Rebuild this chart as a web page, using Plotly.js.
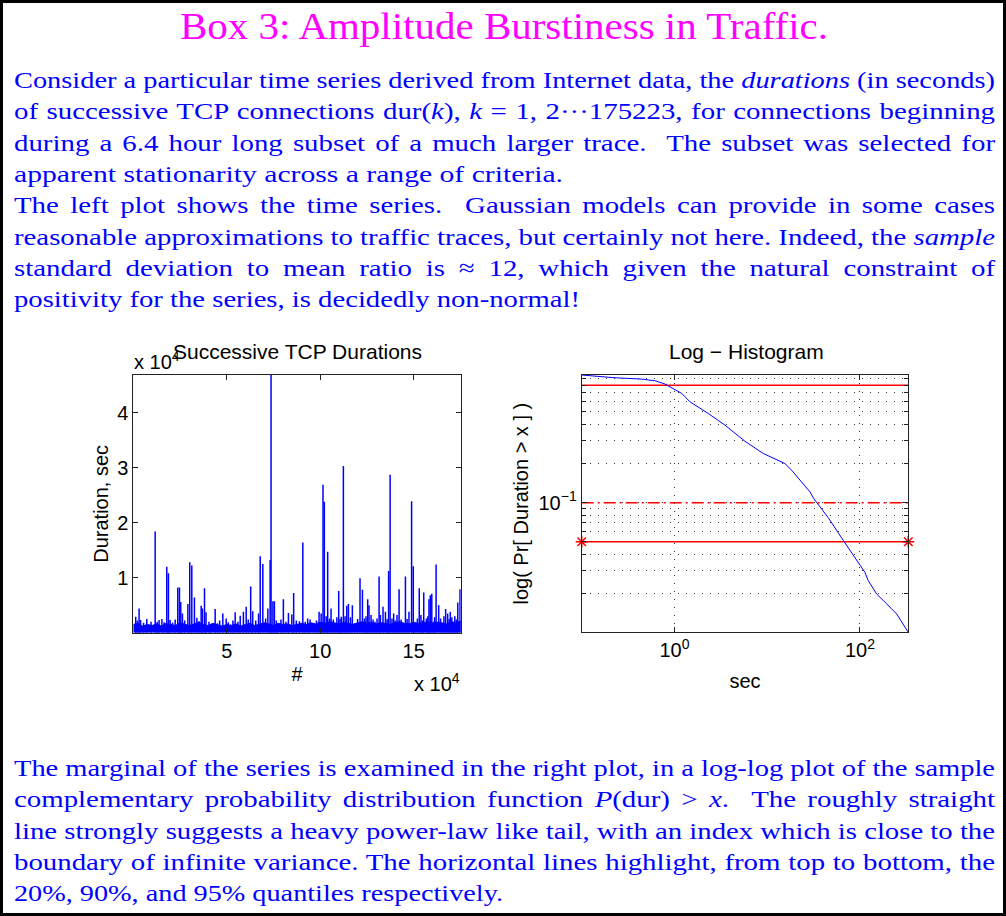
<!DOCTYPE html>
<html>
<head>
<meta charset="utf-8">
<script src="https://cdn.plot.ly/plotly-3.0.1.min.js"></script>
<style>
html,body{margin:0;padding:0;background:#fff;}
#page{position:relative;width:1006px;height:916px;overflow:hidden;background:#fff;}
#frame{position:absolute;left:0;top:0;width:1006px;height:916px;box-sizing:border-box;border:3px solid #000;pointer-events:none;z-index:3;}
#plot{position:absolute;left:0;top:0;width:1006px;height:916px;z-index:1;}
.ln{position:absolute;z-index:2;font-family:"Liberation Serif","Times New Roman",serif;color:#0000ff;font-size:24px;line-height:24px;white-space:nowrap;transform-origin:0 0;}
.ttl{color:#ff00ff;font-size:38px;line-height:38px;}
</style>
</head>
<body>
<div id="page">
  <div id="plot"></div>
  <div id="text"></div>
  <div id="frame"></div>
</div>
<script>
// ---------------- DATA ----------------
// Left plot: successive TCP durations (index in units of 10^4, duration in units of 10^4 s)
const seriesLength = 17.5223;
const spikeIndex = [0.13,0.22,0.31,0.39,0.55,0.72,0.95,1.17,1.28,1.38,1.53,1.65,1.79,1.88,1.97,2.10,2.24,2.38,2.47,2.54,2.63,2.75,2.92,3.02,3.13,3.27,3.40,3.52,3.63,3.70,3.81,3.89,4.05,4.17,4.38,4.50,4.62,4.79,4.97,5.08,5.21,5.33,5.45,5.60,5.72,5.89,6.04,6.15,6.28,6.39,6.55,6.70,6.79,6.93,7.08,7.20,7.32,7.37,7.47,7.55,7.65,7.73,7.90,8.03,8.17,8.30,8.48,8.58,8.72,8.89,9.07,9.20,9.33,9.46,9.64,9.80,9.94,10.05,10.15,10.22,10.32,10.40,10.50,10.58,10.70,10.80,10.89,10.99,11.06,11.13,11.24,11.33,11.42,11.51,11.62,11.72,11.86,12.00,12.13,12.26,12.37,12.45,12.54,12.61,12.72,12.83,12.93,13.04,13.15,13.22,13.36,13.49,13.58,13.66,13.74,13.84,13.93,14.02,14.11,14.22,14.33,14.43,14.56,14.65,14.75,14.89,14.98,15.09,15.20,15.30,15.39,15.47,15.54,15.68,15.76,15.82,15.89,15.97,16.04,16.12,16.20,16.34,16.44,16.52,16.62,16.71,16.82,16.90,16.96,17.04,17.11,17.20,17.28,17.36,17.48];
const spikeDuration = [0.29,0.22,0.44,0.23,0.18,0.25,0.20,1.84,0.20,0.23,0.25,0.19,1.20,1.08,0.23,0.18,0.24,0.82,0.82,0.56,0.35,0.22,0.52,1.28,1.22,0.64,0.27,0.21,0.49,0.44,0.81,0.37,0.20,0.15,0.43,0.17,0.22,0.35,0.26,0.19,0.15,0.22,0.37,0.20,0.31,0.38,0.47,0.24,0.84,0.39,0.22,0.35,1.39,1.25,0.26,0.44,1.32,4.685,0.57,0.57,0.22,0.15,0.24,0.61,0.20,0.36,0.33,0.72,0.22,0.21,1.64,0.20,0.26,0.24,0.17,0.22,0.38,0.35,2.69,2.38,0.30,1.47,0.26,0.44,0.24,0.17,0.28,0.76,0.25,0.29,3.03,0.30,0.49,0.52,0.28,0.50,0.17,0.25,0.99,0.78,0.26,0.30,0.61,0.50,0.32,0.24,0.20,0.26,1.02,0.32,0.47,0.38,0.25,1.12,2.87,0.26,0.35,0.22,0.32,0.79,0.24,0.17,1.02,0.25,0.38,2.39,1.21,0.17,0.26,0.81,0.32,0.22,0.73,0.26,0.30,0.61,0.68,0.71,0.20,0.28,1.24,0.50,0.26,0.17,0.30,0.43,0.35,0.25,0.38,0.28,0.20,0.30,0.24,0.55,0.79];
// dense low-level band of the series (estimated envelope)
const bandIndex = [0,0.25,0.5,0.75,1,1.25,1.5,1.75,2,2.25,2.5,2.75,3,3.25,3.5,3.75,4,4.25,4.5,4.75,5,5.25,5.5,5.75,6,6.25,6.5,6.75,7,7.25,7.5,7.75,8,8.25,8.5,8.75,9,9.25,9.5,9.75,10,10.25,10.5,10.75,11,11.25,11.5,11.75,12,12.25,12.5,12.75,13,13.25,13.5,13.75,14,14.25,14.5,14.75,15,15.25,15.5,15.75,16,16.25,16.5,16.75,17,17.25,17.52];
const bandDuration = [0.15,0.17,0.12,0.15,0.13,0.16,0.12,0.17,0.15,0.13,0.18,0.15,0.13,0.16,0.19,0.15,0.13,0.17,0.15,0.12,0.15,0.13,0.16,0.12,0.15,0.17,0.13,0.15,0.18,0.16,0.13,0.17,0.15,0.16,0.13,0.15,0.17,0.15,0.18,0.16,0.19,0.17,0.20,0.18,0.16,0.19,0.17,0.15,0.18,0.20,0.17,0.19,0.16,0.18,0.17,0.15,0.18,0.20,0.17,0.16,0.19,0.17,0.18,0.20,0.17,0.19,0.18,0.16,0.20,0.18,0.21];
const leftYTicks = [1,2,3,4];
const leftXTicks = [5,10,15];

// Right plot: empirical complementary distribution P[Duration > x]
const ccdfSec  = [0.1,0.228,0.443,0.616,0.790,0.933,1.01,1.196,1.47,2.31,3.50,5.75,9.06,15.5,18.4,28.9,31.9,37.0,45.5,66.1,84.7,113,123,151,194,249,332];
const ccdfProb = [0.96,0.914,0.893,0.867,0.818,0.766,0.735,0.693,0.597,0.486,0.395,0.297,0.239,0.200,0.177,0.121,0.107,0.0925,0.0766,0.0512,0.0392,0.0291,0.0251,0.01985,0.01663,0.0139,0.01005];
const quantileProb = [0.8, 0.1, 0.05];          // 20%, 90%, 95% quantiles
const quantileDash = ['solid', '12px,4px,2px,4px', 'solid'];
const quantileMarker = [false, false, true];
const rightXTicks = [1, 100];
const rightXTickText = ['10<sup>0</sup>', '10<sup>2</sup>'];
const rightYTicks = [0.1];
const rightYTickText = ['10<sup>\u22121</sup>'];
const rightYMinor = [0.02,0.03,0.04,0.05,0.06,0.07,0.08,0.09,0.2,0.3,0.4,0.5,0.6,0.7,0.8,0.9];

// ---------------- TEXT ----------------
const titleText = 'Box 3: Amplitude Burstiness in Traffic.';
const topLines = [
 ['Consider a particular time series derived from Internet data, the <i>durations</i> (in seconds)', 0],
 ['of successive TCP connections dur(<i>k</i>), <i>k</i> = 1, 2\u00B7\u00B7\u00B7175223, for connections beginning', 0],
 ['during a 6.4 hour long subset of a much larger trace.&nbsp; The subset was selected for', 0],
 ['apparent stationarity across a range of criteria.', 549],
 ['The left plot shows the time series.&nbsp; Gaussian models can provide in some cases', 0],
 ['reasonable approximations to traffic traces, but certainly not here. Indeed, the <i>sample</i>', 0],
 ['standard deviation to mean ratio is \u2248 12, which given the natural constraint of', 0],
 ['positivity for the series, is decidedly non-normal!', 566]
];
const bottomLines = [
 ['The marginal of the series is examined in the right plot, in a log-log plot of the sample', 0],
 ['complementary probability distribution function <i>P</i>(dur) &gt; <i>x</i>.&nbsp; The roughly straight', 0],
 ['line strongly suggests a heavy power-law like tail, with an index which is close to the', 0],
 ['boundary of infinite variance. The horizontal lines highlight, from top to bottom, the', 0],
 ['20%, 90%, and 95% quantiles respectively.', 489]
];

// ---------------- TEXT LAYOUT ----------------
(function(){
  const host = document.getElementById('text');
  const LEFT = 14, FULL = 981;
  const items = [];
  function addLine(html, baseline, target){
    const d = document.createElement('div');
    d.className = 'ln';
    d.innerHTML = html;
    d.style.left = LEFT + 'px';
    d.style.top = (baseline - 20) + 'px';
    host.appendChild(d);
    items.push({d, target});
  }
  topLines.forEach((l,i)=>addLine(l[0], 88 + i*31.3, l[1]));
  bottomLines.forEach((l,i)=>addLine(l[0], 776 + i*31.3, l[1]));
  let ratios = [];
  items.forEach(it=>{ it.w = it.d.getBoundingClientRect().width; if(it.target) ratios.push(it.target/it.w); });
  const g = ratios.reduce((a,b)=>a+b,0)/ratios.length;
  items.forEach(it=>{
    if(it.target){
      it.d.style.transform = 'scaleX(' + (it.target/it.w) + ')';
    } else {
      const avail = FULL / g;
      const spaces = (it.d.textContent.match(/[ \u00A0]/g) || []).length;
      if (it.w <= avail && spaces > 0){
        it.d.style.wordSpacing = ((avail - it.w) / spaces) + 'px';
        it.d.style.transform = 'scaleX(' + g + ')';
      } else {
        it.d.style.transform = 'scaleX(' + (FULL/it.w) + ')';
      }
    }
  });
  const t = document.createElement('div');
  t.className = 'ln ttl';
  t.textContent = titleText;
  host.appendChild(t);
  const tw = t.getBoundingClientRect().width;
  const tTarget = 648;
  t.style.left = (504 - tTarget/2) + 'px';
  t.style.top = (39 - 32) + 'px';
  t.style.transform = 'scaleX(' + (tTarget/tw) + ')';
})();

// ---------------- PLOT ----------------
const W = 1006, H = 916;
const px = x => x / W;
const py = y => 1 - y / H;

const sx = [], sy = [];
spikeIndex.forEach((x,i)=>{ sx.push(x, x, null); sy.push(0, spikeDuration[i], null); });

const blue = '#0000ff', red = '#ff0000';
const traces = [
  {type:'scatter', mode:'lines', x: bandIndex, y: bandDuration, fill:'tozeroy', fillcolor: blue,
   line:{color: blue, width:1}, xaxis:'x', yaxis:'y', hoverinfo:'skip'},
  {type:'scatter', mode:'lines', x: sx, y: sy, line:{color: blue, width:1.5}, connectgaps:false,
   xaxis:'x', yaxis:'y', hoverinfo:'skip'},
];
quantileProb.forEach((p,i)=>{
  traces.push({type:'scatter', mode: quantileMarker[i] ? 'lines+markers' : 'lines',
    x:[ccdfSec[0], ccdfSec[ccdfSec.length-1]], y:[p,p],
    line:{color: red, width:1.5, dash: quantileDash[i]},
    marker:{symbol:'asterisk-open', size:10, color: red, line:{color: red, width:1.5}},
    cliponaxis:false, xaxis:'x2', yaxis:'y2', hoverinfo:'skip'});
});
traces.push({type:'scatter', mode:'lines', x: ccdfSec, y: ccdfProb, line:{color: blue, width:1},
  xaxis:'x2', yaxis:'y2', hoverinfo:'skip'});

const axisFont = {family:'Liberation Sans, Arial, sans-serif', size:20, color:'#000'};
const titleFont = {family:'Liberation Sans, Arial, sans-serif', size:21, color:'#000'};
const common = {showline:true, linecolor:'#222', linewidth:1, mirror:'ticks', ticks:'inside', ticklen:5,
  tickcolor:'#222', zeroline:false, tickfont: {family: axisFont.family, size: 20, color: '#000'}, fixedrange:true};
const dotGrid = {gridcolor:'#333', gridwidth:1, griddash:'1px,7px'};

const layout = {
  width: W, height: H, margin:{l:0,r:0,t:0,b:0}, showlegend:false,
  paper_bgcolor:'rgba(0,0,0,0)', plot_bgcolor:'#fff',
  font: axisFont,
  xaxis: Object.assign({}, common, {domain:[px(133.3), px(460.8)], range:[0, seriesLength],
    tickvals: leftXTicks, showgrid:false, anchor:'y',
    title:{text:'#', font: axisFont, standoff: 6}}),
  yaxis: Object.assign({}, common, {domain:[py(632.7), py(375)], range:[0, Math.max(...spikeDuration)],
    tickvals: leftYTicks, showgrid:false, anchor:'x',
    title:{text:'Duration, sec', font: axisFont, standoff: 3}}),
  xaxis2: Object.assign({}, common, dotGrid, {domain:[px(581.7), px(908.3)], type:'log',
    range:[Math.log10(ccdfSec[0]), Math.log10(ccdfSec[ccdfSec.length-1])],
    tickvals: rightXTicks, ticktext: rightXTickText, showgrid:true, anchor:'y2',
    title:{text:'sec', font: axisFont, standoff: 13}}),
  yaxis2: Object.assign({}, common, dotGrid, {domain:[py(632.3), py(375)], type:'log',
    range:[Math.log10(ccdfProb[ccdfProb.length-1]), Math.log10(ccdfProb[0])],
    tickvals: rightYTicks, ticktext: rightYTickText, showgrid:true, anchor:'x2',
    minor: Object.assign({tickvals: rightYMinor, ticks:'inside', ticklen:4, tickcolor:'#222', showgrid:true}, dotGrid),
    title:{text:'log( Pr[ Duration > x ] )', font: axisFont, standoff: 4}}),
  annotations: [
    {xref:'paper', yref:'paper', x: px(132), y: py(360), text:'x 10<sup>4</sup>', showarrow:false,
     xanchor:'left', yanchor:'middle', font: axisFont},
    {xref:'paper', yref:'paper', x: px(297.5), y: py(351), text:'Successive TCP Durations', showarrow:false,
     xanchor:'center', yanchor:'middle', font: titleFont},
    {xref:'paper', yref:'paper', x: px(746), y: py(351.5), text:'Log \u2212 Histogram', showarrow:false,
     xanchor:'center', yanchor:'middle', font: titleFont},
    {xref:'paper', yref:'paper', x: px(462), y: py(682), text:'x 10<sup>4</sup>', showarrow:false,
     xanchor:'right', yanchor:'middle', font: axisFont}
  ]
};

Plotly.newPlot('plot', traces, layout, {staticPlot:true, displayModeBar:false});
</script>
</body>
</html>
